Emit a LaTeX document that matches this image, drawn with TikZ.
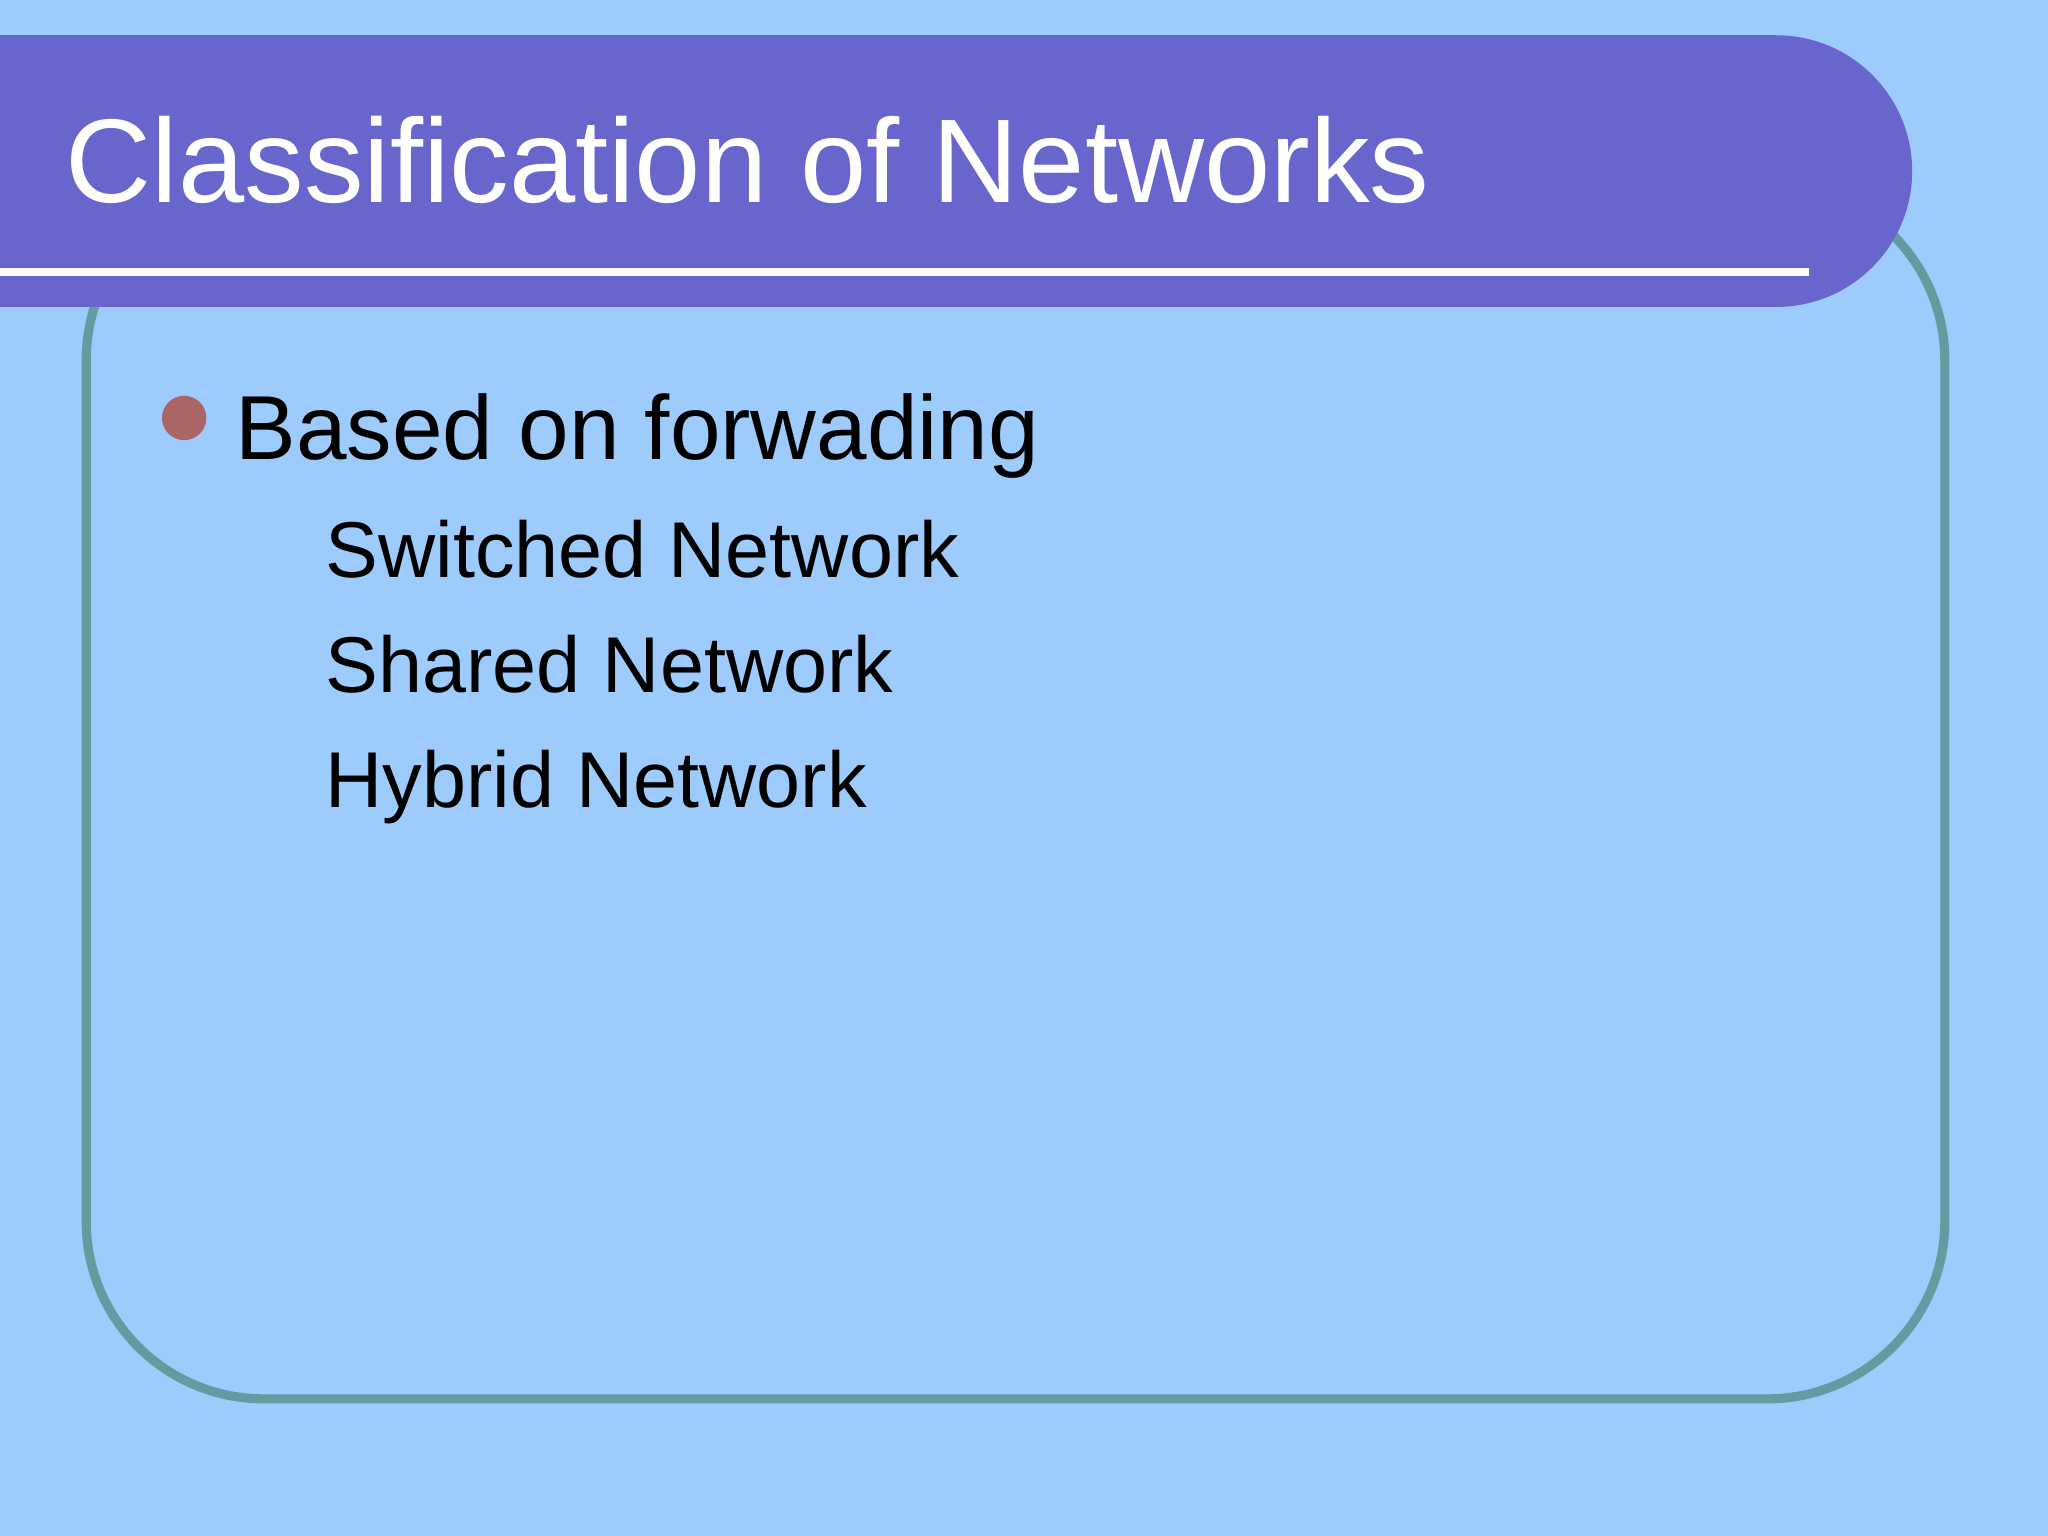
\documentclass[tikz,border=0pt]{standalone}
\usepackage{fontspec}
\setmainfont{Liberation Sans}
\definecolor{bg}{RGB}{157,203,252}
\definecolor{frame}{RGB}{100,155,160}
\definecolor{head}{RGB}{104,102,204}
\definecolor{bul}{RGB}{170,102,102}
\tikzset{sub/.style={anchor=base west,inner sep=0pt,font=\fontsize{30.3}{36}\selectfont}}
\begin{document}
\begin{tikzpicture}[x=0.5pt,y=-0.5pt]
\fill[bg] (0,0) rectangle (1568,1176);
\useasboundingbox (0,0) rectangle (1568,1176);
\draw[frame,line width=3.5pt,rounded corners=68pt] (66,140) rectangle (1489,1071);
\fill[head] (0,27) rectangle (1360,235);
\fill[head] (1360,131) circle[radius=52pt];
\fill[white] (0,205) rectangle (1385,211);
\node[anchor=base west,inner sep=0pt,text=white,font=\fontsize{45.6}{54}\selectfont] (title) at (50,155) {Classification of Networks};
\fill[bul] (141,320) circle[radius=8.5pt];
\node[anchor=base west,inner sep=0pt,font=\fontsize{34.8}{42}\selectfont] (b1) at (180,352) {Based on forwading};
\node[sub] (s1) at (249,442) {Switched Network};
\node[sub] (s2) at (249,530) {Shared Network};
\node[sub] (s3) at (249,618) {Hybrid Network};
\end{tikzpicture}
\end{document}
